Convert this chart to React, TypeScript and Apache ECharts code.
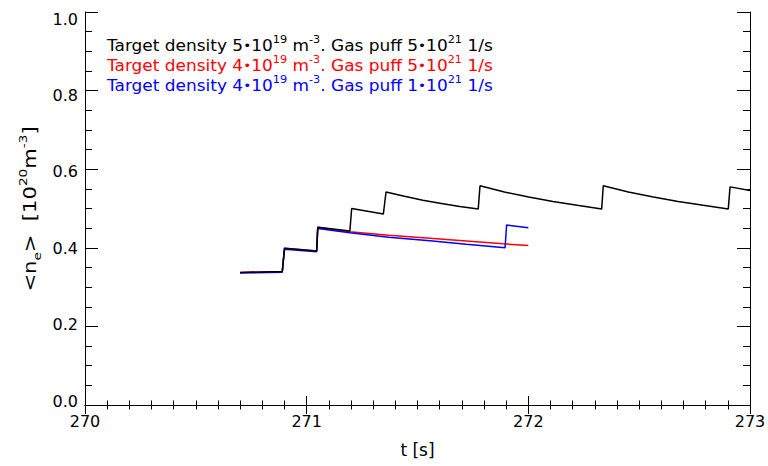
import React, { useEffect, useRef } from "react";
import * as echarts from "echarts";

// ---- data ----
const blackT = [270.70, 270.89, 270.90, 271.045, 271.05, 271.195, 271.203, 271.346, 271.358, 271.441, 271.524, 271.608, 271.691, 271.774, 271.782, 271.892, 272.002, 272.111, 272.221, 272.331, 272.338, 272.451, 272.564, 272.676, 272.789, 272.902, 272.910, 273.0];
const blackV = [0.337, 0.340, 0.399, 0.392, 0.452, 0.443, 0.500, 0.486, 0.542, 0.531, 0.521, 0.513, 0.505, 0.499, 0.558, 0.542, 0.529, 0.518, 0.508, 0.499, 0.558, 0.542, 0.529, 0.518, 0.508, 0.499, 0.555, 0.546];

const redT = [270.70, 270.89, 270.90, 271.045, 271.05, 271.195, 271.37, 271.556, 271.72, 271.886, 272.0];
const redV = [0.337, 0.340, 0.399, 0.392, 0.452, 0.441, 0.432, 0.424, 0.417, 0.410, 0.406];

const blueT = [270.70, 270.89, 270.90, 271.045, 271.05, 271.195, 271.37, 271.556, 271.72, 271.895, 271.902, 272.0];
const blueV = [0.336, 0.338, 0.396, 0.390, 0.449, 0.438, 0.427, 0.418, 0.409, 0.400, 0.458, 0.451];

const xTicks = [270, 271, 272, 273];
const yTicks = [0.0, 0.2, 0.4, 0.6, 0.8, 1.0];

const legendRows = [
  { color: "#000000", text: "Target density 5{dot|•}10{sup|19} m{sup|-3}. Gas puff 5{dot|•}10{sup|21} 1/s" },
  { color: "#ff0000", text: "Target density 4{dot|•}10{sup|19} m{sup|-3}. Gas puff 5{dot|•}10{sup|21} 1/s" },
  { color: "#0000ff", text: "Target density 4{dot|•}10{sup|19} m{sup|-3}. Gas puff 1{dot|•}10{sup|21} 1/s" },
];

const yTitle = "<n{sub|e}>  [10{sup|20}m{sup|-3}]";
const xTitle = "t [s]";

const FONT = "DejaVu Sans";

function pairs(t: number[], v: number[]) {
  return t.map((x, i) => [x, v[i]]);
}

export default function App() {
  const ref = useRef<HTMLDivElement>(null);
  useEffect(() => {
    if (!ref.current) return;
    const chart = echarts.init(ref.current, null, { renderer: "svg" });

    // y-label vertical shifts (reference labels drift relative to ticks)
    const yRich: Record<string, any> = {};
    yTicks.forEach((v, i) => {
      const d = -4 + 11 * v; // px downward
      const pad = d >= 0 ? [2 * d, 0, 0, 0] : [0, 0, -2 * d, 0];
      yRich["y" + i] = { fontSize: 16, fontFamily: FONT, color: "#000", padding: pad };
    });

    const axisCommon = {
      axisLine: { show: true, lineStyle: { color: "#000", width: 1 } },
      splitLine: { show: false },
    };

    const option: any = {
      animation: false,
      backgroundColor: "#fff",
      grid: { left: 85, right: 18, top: 12, bottom: 61, containLabel: false, outerBoundsMode: "none" },
      xAxis: [
        {
          type: "value",
          min: 270,
          max: 273,
          interval: 1,
          position: "bottom",
          ...axisCommon,
          axisTick: { show: true, inside: true, length: 9, lineStyle: { color: "#000" } },
          minorTick: { show: true, splitNumber: 10, length: 4.5, lineStyle: { color: "#000" } },
          axisLabel: {
            show: true,
            margin: 8,
            fontSize: 16,
            fontFamily: FONT,
            color: "#000",
            formatter: (v: number) => (xTicks.includes(v) ? String(v) : ""),
          },
          name: xTitle,
          nameLocation: "middle",
          nameGap: 36,
          nameTextStyle: { fontSize: 17, fontFamily: FONT, color: "#000" },
        },
        {
          type: "value",
          min: 270,
          max: 273,
          interval: 1,
          position: "top",
          ...axisCommon,
          axisTick: { show: true, inside: true, length: 9, lineStyle: { color: "#000" } },
          minorTick: { show: true, splitNumber: 10, length: 4.5, lineStyle: { color: "#000" } },
          axisLabel: { show: false },
        },
      ],
      yAxis: [
        {
          type: "value",
          min: 0,
          max: 1,
          interval: 0.2,
          position: "left",
          ...axisCommon,
          axisTick: { show: true, inside: true, length: 13, lineStyle: { color: "#000" } },
          minorTick: { show: true, splitNumber: 4, length: 7, lineStyle: { color: "#000" } },
          axisLabel: {
            show: true,
            margin: 7,
            fontSize: 16,
            fontFamily: FONT,
            color: "#000",
            formatter: (v: number) => {
              const i = yTicks.findIndex((t) => Math.abs(t - v) < 1e-6);
              return i >= 0 ? `{y${i}|${v.toFixed(1)}}` : "";
            },
            rich: yRich,
          },
        },
        {
          type: "value",
          min: 0,
          max: 1,
          interval: 0.2,
          position: "right",
          ...axisCommon,
          axisTick: { show: true, inside: true, length: 13, lineStyle: { color: "#000" } },
          minorTick: { show: true, splitNumber: 4, length: 7, lineStyle: { color: "#000" } },
          axisLabel: { show: false },
        },
      ],
      series: [
        {
          type: "line",
          data: pairs(redT, redV),
          showSymbol: false,
          symbol: "none",
          lineStyle: { color: "#ff0000", width: 1.5 },
          z: 2,
        },
        {
          type: "line",
          data: pairs(blueT, blueV),
          showSymbol: false,
          symbol: "none",
          lineStyle: { color: "#0000ff", width: 1.5 },
          z: 3,
        },
        {
          type: "line",
          data: pairs(blackT, blackV),
          showSymbol: false,
          symbol: "none",
          lineStyle: { color: "#000000", width: 1.5 },
          z: 4,
        },
      ],
      graphic: [
        ...legendRows.map((row, i) => ({
          type: "text",
          x: 107,
          y: 46 + i * 20,
          scaleX: 1.13,
          z: 10,
          style: {
            text: row.text,
            fill: row.color,
            fontSize: 15,
            fontFamily: FONT,
            verticalAlign: "middle",
            lineHeight: 22,
            rich: {
              sup: { fontSize: 10, fontFamily: FONT, verticalAlign: "top", lineHeight: 10 },
              dot: { fontSize: 12, fontFamily: FONT, lineHeight: 22 },
            },
          },
        })),
        {
          type: "text",
          x: 30,
          y: 209,
          rotation: Math.PI / 2,
          scaleX: 1.24,
          z: 10,
          style: {
            text: yTitle,
            fill: "#000",
            fontSize: 17,
            fontFamily: FONT,
            align: "center",
            verticalAlign: "middle",
            lineHeight: 26,
            rich: {
              sup: { fontSize: 11, fontFamily: FONT, verticalAlign: "top", lineHeight: 11 },
              sub: { fontSize: 11, fontFamily: FONT, verticalAlign: "bottom", lineHeight: 11 },
            },
          },
        },
      ],
    };
    chart.setOption(option);
    return () => chart.dispose();
  }, []);
  return (
    <div
      ref={ref}
      style={{ position: "fixed", left: 0, top: 0, width: 768, height: 466, background: "#fff" }}
    />
  );
}
